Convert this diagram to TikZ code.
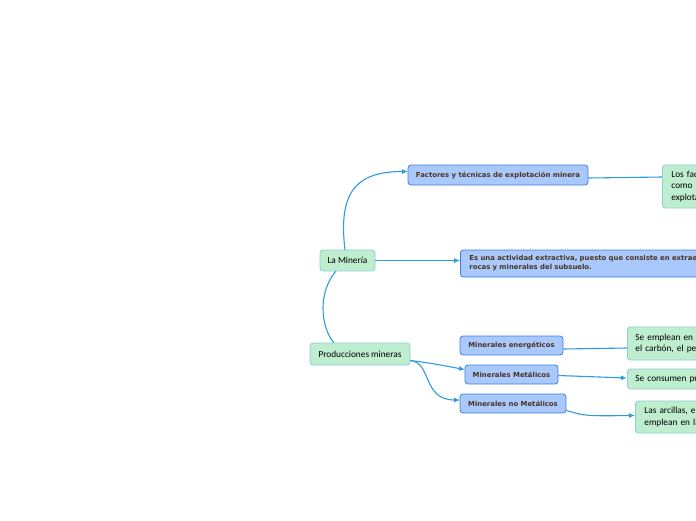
\documentclass[tikz,border=0pt]{standalone}
\usepackage{fontspec}
\setmainfont{Carlito}
\newfontfamily\vfont{DejaVu Sans}
\usetikzlibrary{arrows.meta}
\definecolor{bfill}{HTML}{A9C9FC}
\definecolor{bdraw}{HTML}{3F7FE2}
\definecolor{gfill}{HTML}{BFEDCF}
\definecolor{gdraw}{HTML}{88D2D4}
\definecolor{btext}{HTML}{4A3222}
\definecolor{link}{HTML}{2E9BE2}
\begin{document}
\begin{tikzpicture}[x=1pt,y=-1pt,
  gbox/.style={draw=gdraw,fill=gfill,line width=0.8pt,rounded corners=3pt,font=\fontsize{9.3}{11.5}\selectfont,text=black,inner sep=0pt},
  bbox/.style={draw=bdraw,fill=bfill,line width=0.8pt,rounded corners=3pt,font=\vfont\bfseries\fontsize{6.9}{9}\selectfont,text=btext,inner sep=0pt},
  conn/.style={draw=link,line width=1.1pt},
  arr/.style={conn,-{Latex[length=6pt,width=5pt]}}]
\useasboundingbox (0,0) rectangle (696,520);
\clip (0,0) rectangle (696,520);
% green nodes
\node[gbox,minimum width=55pt,minimum height=21pt] (lam) at (347.5,260.5) {La Minería};
\node[gbox,minimum width=100pt,minimum height=22pt] (prod) at (360,354) {Producciones mineras};
\node[gbox,anchor=west,minimum width=160pt,minimum height=43pt,text width=150pt,align=left,inner xsep=9pt] (losfac) at (662,186.5) {Los factores y técnicas\\como la minería y la\\explotación};
\node[gbox,anchor=west,minimum width=160pt,minimum height=33pt,text width=150pt,align=left,inner xsep=8pt] (seempl) at (627,343.5) {Se emplean en la producción\\el carbón, el petróleo};
\node[gbox,anchor=west,minimum width=160pt,minimum height=20pt,text width=150pt,align=left,inner xsep=8pt] (secons) at (627,379) {Se consumen productos};
\node[gbox,anchor=west,minimum width=160pt,minimum height=32pt,text width=150pt,align=left,inner xsep=9pt] (lasarc) at (635,417) {Las arcillas, el yeso\\emplean en la construcción};
% blue nodes
\node[bbox,minimum width=180pt,minimum height=20pt] (fact) at (498,175) {Factores y técnicas de explotación minera};
\node[bbox,anchor=west,minimum width=300pt,minimum height=27pt,text width=290pt,align=left,inner xsep=9pt] (esuna) at (460,263.5) {Es una actividad extractiva, puesto que consiste en extraer\\rocas y minerales del subsuelo.};
\node[bbox,minimum width=103pt,minimum height=19pt] (energ) at (511.5,345.5) {Minerales energéticos};
\node[bbox,minimum width=93pt,minimum height=19pt] (metal) at (511.5,374.5) {Minerales Metálicos};
\node[bbox,minimum width=106pt,minimum height=19pt] (nomet) at (513,403.5) {Minerales no Metálicos};
% connectors
\coordinate (lamtop) at (345,250);
\coordinate (factin) at (408,171.5);
\draw[arr] (lamtop) .. controls (338,192) and (356,171.5) .. (factin);
\draw[arr] (lam.east) -- (lam.east -| esuna.west);
\coordinate (lambot) at (336,271);
\coordinate (prodtop) at (334,343);
\draw[conn] (lambot) .. controls (318,292) and (320,326) .. (prodtop);
\coordinate (prodout) at (410,360.5);
\coordinate (metin) at (465,369.5);
\coordinate (nomin) at (460,400);
\draw[arr] (prodout) .. controls (432,363) and (445,366) .. (metin);
\draw[arr] (prodout) .. controls (432,362) and (422,400) .. (nomin);
\draw[conn] (fact.east |- 0,178) -- (losfac.west |- 0,177);
\draw[conn] (energ.east |- 0,349) -- (seempl.west |- 0,348);
\draw[arr] (metal.east |- 0,375.5) -- (secons.west |- 0,378);
\draw[arr] (nomet.east |- 0,410.5) .. controls (585,416) .. (lasarc.west |- 0,415.5);
\end{tikzpicture}
\end{document}
